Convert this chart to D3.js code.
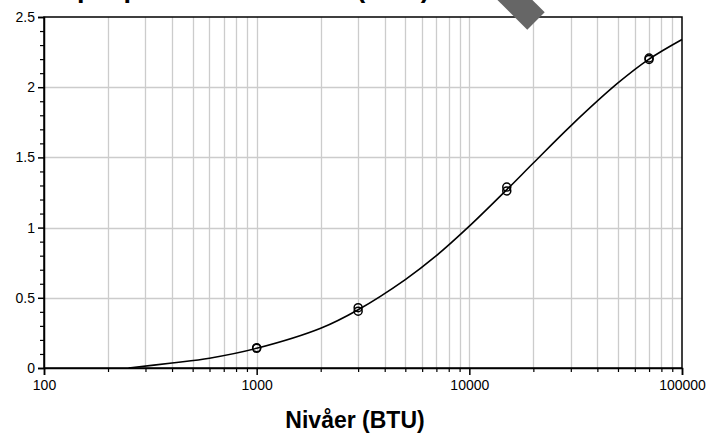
<!DOCTYPE html>
<html>
<head>
<meta charset="utf-8">
<script src="https://cdn.jsdelivr.net/npm/d3@7"></script>
<style>
html,body{margin:0;padding:0;background:#fff;}
svg{display:block;font-family:Arial,"Liberation Sans",sans-serif;}
</style>
</head>
<body>
<svg id="chart" width="710" height="436"></svg>
<script>
// ---- data ----
const chartTitle = "Eksempel på standardkurve (BTU)";
const xLabel = "Nivåer (BTU)";
const curveX = [250, 400, 600, 1000, 2000, 3000, 5000, 7000, 10000, 15000, 20000, 30000, 50000, 70000, 100000];
const curveY = [0, 0.036, 0.07, 0.14, 0.283, 0.415, 0.63, 0.80, 1.01, 1.27, 1.46, 1.725, 2.03, 2.2, 2.34];
const pointX = [1000, 1000, 3000, 3000, 15000, 15000, 70000, 70000];
const pointY = [0.14, 0.145, 0.405, 0.43, 1.261, 1.289, 2.198, 2.208];
const xMajorTicks = [100, 1000, 10000, 100000];
const yMajorTicks = [0, 0.5, 1, 1.5, 2, 2.5];

// ---- layout ----
const W = 710, H = 436;
const m = {left: 44, right: 28, top: 17, bottom: 68};
const svg = d3.select("#chart");

const x = d3.scaleLog().domain([100, 100000]).range([m.left, W - m.right]);
const y = d3.scaleLinear().domain([0, 2.5]).range([H - m.bottom, m.top]);

// minor x values
const xMinor = [];
for (let d = 100; d < 100000; d *= 10) for (let k = 2; k <= 9; k++) xMinor.push(d * k);
const yMinor = d3.range(0, 2.5001, 0.1).map(v => +v.toFixed(2));

// grid
const grid = svg.append("g").attr("stroke", "#cccccc").attr("stroke-width", 1.3);
grid.selectAll("line.vx").data(xMinor.concat([1000, 10000])).join("line")
  .attr("x1", d => Math.round(x(d)) + 0.5).attr("x2", d => Math.round(x(d)) + 0.5)
  .attr("y1", m.top).attr("y2", H - m.bottom);
grid.selectAll("line.hy").data([0.5, 1, 1.5, 2]).join("line")
  .attr("y1", d => Math.round(y(d)) + 0.5).attr("y2", d => Math.round(y(d)) + 0.5)
  .attr("x1", m.left).attr("x2", W - m.right);

// frame
svg.append("rect").attr("x", m.left).attr("y", m.top)
  .attr("width", W - m.right - m.left).attr("height", H - m.bottom - m.top)
  .attr("fill", "none").attr("stroke", "#000").attr("stroke-width", 1.5);

// x axis
const xAxis = d3.axisBottom(x).tickValues(xMajorTicks).tickFormat(d3.format("d")).tickSize(7).tickPadding(5);
const gx = svg.append("g").attr("transform", `translate(0,${H - m.bottom})`).call(xAxis);
gx.select(".domain").attr("stroke-width", 1.5);
gx.selectAll(".tick line").attr("stroke-width", 1.5);
gx.selectAll(".tick text").attr("font-size", 14).attr("font-family", "Arial, 'Liberation Sans', sans-serif").attr("fill", "#000");
const xAxisMinor = d3.axisBottom(x).tickValues(xMinor).tickFormat("").tickSize(4);
const gxm = svg.append("g").attr("transform", `translate(0,${H - m.bottom})`).call(xAxisMinor);
gxm.select(".domain").remove();
gxm.selectAll(".tick line").attr("stroke-width", 1.2);

// y axis
const yAxis = d3.axisLeft(y).tickValues(yMajorTicks).tickFormat(d => d).tickSize(6).tickPadding(3);
const gy = svg.append("g").attr("transform", `translate(${m.left},0)`).call(yAxis);
gy.select(".domain").attr("stroke-width", 1.5);
gy.selectAll(".tick line").attr("stroke-width", 1.5);
gy.selectAll(".tick text").attr("font-size", 14).attr("font-family", "Arial, 'Liberation Sans', sans-serif").attr("fill", "#000");
const yAxisMinor = d3.axisLeft(y).tickValues(yMinor.filter(v => !yMajorTicks.includes(v))).tickFormat("").tickSize(4);
const gym = svg.append("g").attr("transform", `translate(${m.left},0)`).call(yAxisMinor);
gym.select(".domain").remove();
gym.selectAll(".tick line").attr("stroke-width", 1.2);

// curve
const curveData = curveX.map((v, i) => [v, curveY[i]]);
svg.append("path").datum(curveData)
  .attr("d", d3.line().x(d => x(d[0])).y(d => y(d[1])).curve(d3.curveCatmullRom.alpha(0.5)))
  .attr("fill", "none").attr("stroke", "#000").attr("stroke-width", 1.6);

// points
svg.append("g").selectAll("circle").data(pointX.map((v, i) => [v, pointY[i]])).join("circle")
  .attr("cx", d => x(d[0])).attr("cy", d => y(d[1])).attr("r", 4)
  .attr("fill", "none").attr("stroke", "#000").attr("stroke-width", 1.5);

// axis title
svg.append("text").attr("x", 355).attr("y", 428).attr("text-anchor", "middle")
  .attr("font-size", 23).attr("font-weight", "bold").text(xLabel);

// chart title (mostly above the visible area, as in the reference)
svg.append("text").attr("x", -10).attr("y", -3).attr("text-anchor", "start")
  .attr("font-size", 27).attr("font-weight", "bold").text(chartTitle);

// watermark fragment
svg.append("g").attr("transform", "translate(536,21) rotate(45)")
  .append("rect").attr("x", -120).attr("y", -12.3).attr("width", 120).attr("height", 24.7)
  .attr("fill", "#666");
</script>
</body>
</html>
